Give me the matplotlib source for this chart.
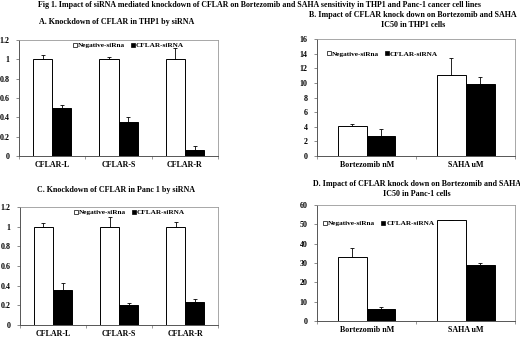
import matplotlib
matplotlib.use("Agg")
import matplotlib.pyplot as plt
from matplotlib.lines import Line2D
import numpy as np

plt.rcParams['font.family'] = ['Liberation Serif', 'DejaVu Serif']
plt.rcParams['font.weight'] = 'bold'

genes = ["CFLAR-L", "CFLAR-S", "CFLAR-R"]
drugs = ["Bortezomib nM", "SAHA uM"]
series = ["Negative-siRna", "CFLAR-siRNA"]

a_neg = [1.0, 1.0, 1.0]
a_neg_err = [0.05, 0.03, 0.12]
a_kd = [0.50, 0.35, 0.065]
a_kd_err = [0.03, 0.05, 0.04]

b_neg = [4.1, 11.1]
b_neg_err = [0.3, 2.3]
b_kd = [2.7, 9.8]
b_kd_err = [1.0, 1.0]

c_neg = [1.0, 1.0, 1.0]
c_neg_err = [0.04, 0.10, 0.05]
c_kd = [0.36, 0.20, 0.235]
c_kd_err = [0.07, 0.02, 0.03]

d_neg = [33.0, 52.5]
d_neg_err = [5.0, 0.0]
d_kd = [6.0, 29.0]
d_kd_err = [1.0, 1.0]

fig = plt.figure(figsize=(5.2, 3.37), dpi=100)
FS = 5.8

def panel(rect, cats, neg, nege, kd, kde, ylim, yticks, yfmt, leg_xy):
    ax = fig.add_axes(rect)
    x = np.arange(len(cats))
    w = 0.29
    ax.bar(x - w/2, neg, w, color='white', edgecolor='black', linewidth=0.7, zorder=2)
    ax.bar(x + w/2, kd, w, color='black', edgecolor='black', linewidth=0.7, zorder=2)
    ax.errorbar(x - w/2, neg, yerr=[np.zeros(len(neg)), nege], fmt='none', ecolor='black',
                elinewidth=0.6, capsize=1.5, capthick=0.6, zorder=3)
    ax.errorbar(x + w/2, kd, yerr=[np.zeros(len(kd)), kde], fmt='none', ecolor='black',
                elinewidth=0.6, capsize=1.5, capthick=0.6, zorder=3)
    ax.set_xlim(-0.5, len(cats) - 0.5)
    ax.set_ylim(*ylim)
    ax.set_yticks(yticks)
    ax.set_yticklabels([yfmt(v) for v in yticks], fontsize=FS, fontweight='bold')
    ax.set_xticks(x)
    ax.set_xticklabels(cats, fontsize=FS, fontweight='bold')
    ax.tick_params(axis='x', length=0, pad=3.5)
    ax.tick_params(axis='y', length=2, width=0.6, pad=5, color='#777777')
    ax.set_xticks(np.arange(len(cats) + 1) - 0.5, minor=True)
    ax.tick_params(axis='x', which='minor', length=2, width=0.6, color='#888888')
    for s in ['top', 'right']:
        ax.spines[s].set_color('#999999')
        ax.spines[s].set_linewidth(0.6)
    for s in ['left', 'bottom']:
        ax.spines[s].set_color('#555555')
        ax.spines[s].set_linewidth(0.7)
    handles = [Line2D([], [], marker='s', linestyle='none', markerfacecolor='white',
                      markeredgecolor='black', markersize=3.5, markeredgewidth=0.5),
               Line2D([], [], marker='s', linestyle='none', markerfacecolor='black',
                      markeredgecolor='black', markersize=3.5, markeredgewidth=0.5)]
    ax.legend(handles, series, loc='upper left', bbox_to_anchor=leg_xy, ncol=2, frameon=False,
              prop={'size': 5.2, 'weight': 'bold'}, handlelength=0.6, handletextpad=0.1,
              columnspacing=0.8, borderaxespad=0, borderpad=0)
    return ax

def f1(v):
    return "0" if v == 0 else ("1" if v == 1 else f"{v:.1f}")

def fi(v):
    return f"{int(v)}"

panel([0.0365, 0.537, 0.383, 0.344], genes, a_neg, a_neg_err, a_kd, a_kd_err,
      (0, 1.2), [0, 0.2, 0.4, 0.6, 0.8, 1.0, 1.2], f1, (0.27, 0.98))
panel([0.610, 0.537, 0.381, 0.347], drugs, b_neg, b_neg_err, b_kd, b_kd_err,
      (0, 16), list(range(0, 17, 2)), fi, (0.05, 0.90))
panel([0.0385, 0.0356, 0.381, 0.350], genes, c_neg, c_neg_err, c_kd, c_kd_err,
      (0, 1.2), [0, 0.2, 0.4, 0.6, 0.8, 1.0, 1.2], f1, (0.27, 0.98))
panel([0.610, 0.0475, 0.381, 0.344], drugs, d_neg, d_neg_err, d_kd, d_kd_err,
      (0, 60), list(range(0, 61, 10)), fi, (0.03, 0.87))

fig.text(0.5, 1 - 5/337, "Fig 1. Impact of siRNA mediated knockdown of CFLAR on Bortezomib and SAHA sensitivity in THP1 and Panc-1 cancer cell lines",
         ha='center', va='center', fontsize=5.65, fontweight='bold')
fig.text(117/520, 1 - 22/337, "A. Knockdown of CFLAR in THP1 by siRNA",
         ha='center', va='center', fontsize=FS, fontweight='bold')
fig.text(413/520, 1 - 20/337, "B. Impact of CFLAR knock down on Bortezomib and SAHA\nIC50 in THP1 cells",
         ha='center', va='center', fontsize=FS, fontweight='bold', linespacing=1.2)
fig.text(116/520, 1 - 190/337, "C. Knockdown of CFLAR in Panc 1 by siRNA",
         ha='center', va='center', fontsize=FS, fontweight='bold')
fig.text(417/520, 1 - 189/337, "D. Impact of CFLAR knock down on Bortezomib and SAHA\nIC50 in Panc-1 cells",
         ha='center', va='center', fontsize=FS, fontweight='bold', linespacing=1.2)

fig.savefig("out.png", dpi=100)
